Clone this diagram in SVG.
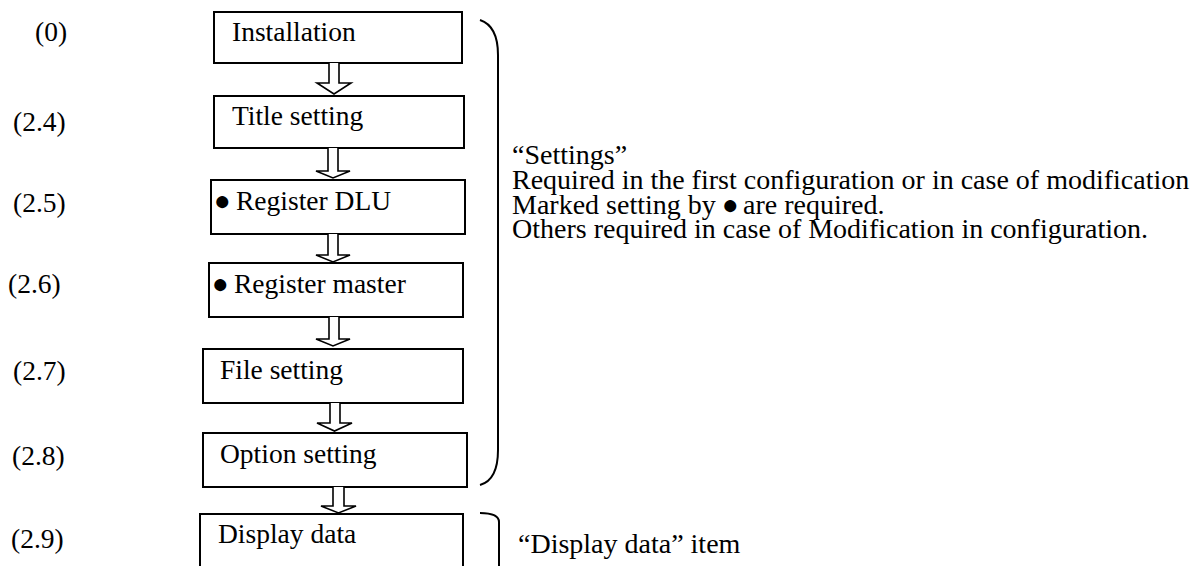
<svg xmlns="http://www.w3.org/2000/svg" width="1194" height="566" viewBox="0 0 1194 566">
<style>
text{font-family:'Liberation Serif','Times New Roman',serif;font-size:27.5px;fill:#000}
.box{fill:#fff;stroke:#000;stroke-width:2}
.arr{fill:#fff;stroke:#000;stroke-width:1.6;stroke-linejoin:miter}
.br{fill:none;stroke:#000;stroke-width:2}
.b{font-size:28px}
.n{font-size:28px}
</style>
<rect width="1194" height="566" fill="#fff"/>
<g id="labels">
<text x="35" y="41">(0)</text>
<text x="13" y="131">(2.4)</text>
<text x="13" y="212">(2.5)</text>
<text x="8" y="293">(2.6)</text>
<text x="13" y="380">(2.7)</text>
<text x="12" y="465">(2.8)</text>
<text x="11" y="548">(2.9)</text>
</g>
<g id="n0"><rect class="box" x="214" y="12" width="248" height="51"/><text x="232" y="41">Installation</text></g>
<g id="n1"><rect class="box" x="214" y="96" width="250" height="52"/><text x="232" y="125">Title setting</text></g>
<g id="n2"><rect class="box" x="211" y="180" width="254" height="54"/><text x="214" y="210"><tspan class="b">●</tspan><tspan x="236">Register DLU</tspan></text></g>
<g id="n3"><rect class="box" x="209" y="263" width="254" height="54"/><text x="212" y="293"><tspan class="b">●</tspan><tspan x="234">Register master</tspan></text></g>
<g id="n4"><rect class="box" x="203" y="349" width="260" height="54"/><text x="220" y="379">File setting</text></g>
<g id="n5"><rect class="box" x="203" y="433" width="264" height="54"/><text x="220" y="463">Option setting</text></g>
<g id="n6"><rect class="box" x="200" y="514" width="263" height="60"/><text x="218" y="543">Display data</text></g>
<g id="connectors">
<path class="arr" d="M329,63 V83 H317 L334,94 L351,83 H339 V63"/>
<path class="arr" d="M328,148 V171 H316 L333,178 L350,171 H338 V148"/>
<path class="arr" d="M328,234 V255 H316 L333,262 L350,255 H338 V234"/>
<path class="arr" d="M329,317 V339 H316 L333,346 L350,339 H339 V317"/>
<path class="arr" d="M330,403 V423 H317 L334.5,431 L352,423 H340 V403"/>
<path class="arr" d="M333,487 V506 H321 L338.5,513 L356,506 H344 V487"/>
</g>
<g id="brackets">
<path class="br" d="M480,20 Q498,26 498,55 V450 Q498,480 480,485"/>
<path class="br" d="M480,513 Q499,513 499,522 V566"/>
</g>
<g id="notes">
<text class="n" x="512" y="164">“Settings”</text>
<text class="n" x="512" y="189">Required in the first configuration or in case of modification</text>
<text class="n" x="512" y="214">Marked setting by <tspan class="b" x="722">●</tspan><tspan x="743">are required.</tspan></text>
<text class="n" x="512" y="238">Others required in case of Modification in configuration.</text>
<text class="n" x="518" y="553">“Display data” item</text>
</g>
</svg>
